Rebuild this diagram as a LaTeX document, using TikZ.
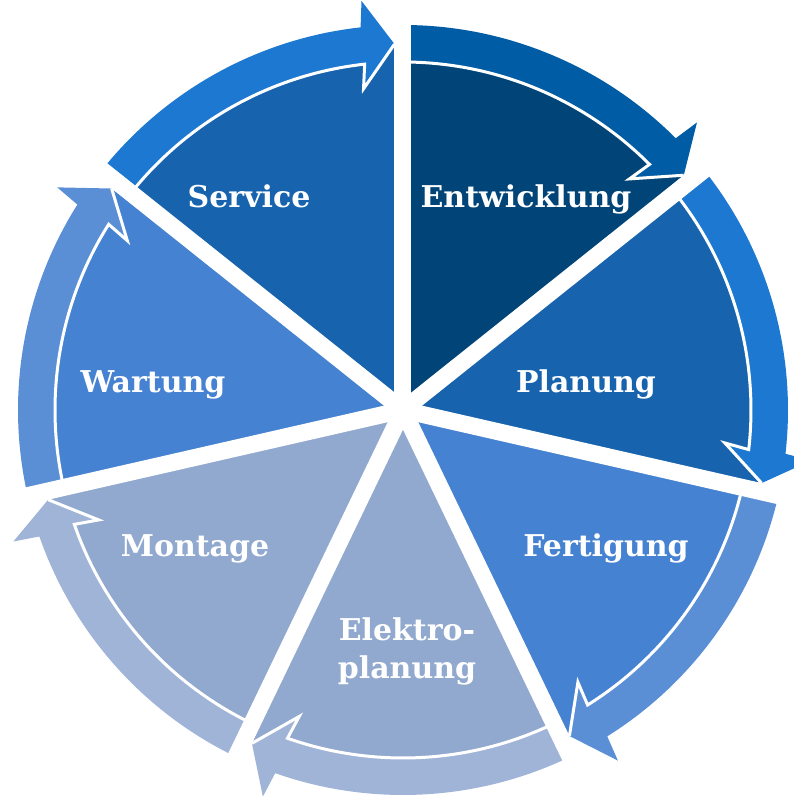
\documentclass[tikz,border=0pt]{standalone}
\usepackage{fontspec}
\setmainfont{DejaVu Serif}
\usepackage{xcolor}
\usetikzlibrary{calc}

\def\sectorang{51.428571}
\def\outerrad{385}
\def\ringrad{348}
\def\tiprad{366}
\def\headlen{32}
\def\headwid{44}
\def\gapwid{17}

\definecolor{entw}{RGB}{0,68,120}
\definecolor{entwarrow}{RGB}{0,92,164}
\definecolor{mid}{RGB}{23,99,174}
\definecolor{midarrow}{RGB}{28,120,208}
\definecolor{light}{RGB}{70,130,210}
\definecolor{lightarrow}{RGB}{90,143,214}
\definecolor{pale}{RGB}{145,169,207}
\definecolor{palearrow}{RGB}{160,180,216}

\begin{document}
\begin{tikzpicture}[x=1pt,y=1pt]
    \tikzstyle{ring line}=[draw=white, line width=3pt, line join=miter]
    \tikzstyle{gap line}=[draw=white, line width=\gapwid pt]
    \tikzstyle{sector text}=[text=white, font=\bfseries\fontsize{30}{38}\selectfont, anchor=base]

    \useasboundingbox (-403,-388) rectangle (391,410);
    \coordinate (C) at (0,0);

    % Draw the sectors with their arrows, clockwise from the top
    \foreach \k/\sc/\bc in {1/entw/entwarrow, 2/mid/midarrow, 3/light/lightarrow,
                            4/pale/palearrow, 5/pale/palearrow, 6/light/lightarrow, 7/mid/midarrow}{
        \pgfmathsetmacro{\s}{90-(\k-1)*\sectorang}
        \pgfmathsetmacro{\e}{\s-\sectorang}
        \pgfmathsetmacro{\t}{\e+asin(\gapwid/2/\tiprad)}
        \pgfmathsetmacro{\b}{\t+atan(\headlen/\tiprad)}
        \coordinate (T-\k) at (\t:\tiprad);
        \coordinate (B-\k) at ($(T-\k)+(\t+90:\headlen)$);
        \coordinate (P-\k) at ($(B-\k)+(\t:\headwid)$);
        \coordinate (Q-\k) at ($(B-\k)+(\t+180:\headwid)$);
        % arrow band and head
        \fill[\bc] (C) -- (\s:\outerrad) arc[start angle=\s, end angle=\b, radius=\outerrad]
            -- (P-\k) -- (T-\k) -- (Q-\k) -- cycle;
        % inner sector
        \fill[\sc] (C) -- (\s:\ringrad) arc[start angle=\s, end angle=\b, radius=\ringrad]
            -- (Q-\k) -- (T-\k) -- cycle;
        \draw[ring line] (\s:\ringrad) arc[start angle=\s, end angle=\b, radius=\ringrad]
            -- (Q-\k) -- (T-\k);
    }

    % Cut the gaps between the sectors
    \foreach \k in {1,...,7}
        \draw[gap line] (C) -- (90-\k*\sectorang+\sectorang:420);

    % Label the sectors
    \node[sector text] (entw) at (123,202) {Entwicklung};
    \node[sector text] (plan) at (183,17) {Planung};
    \node[sector text] (fert) at (203,-146) {Fertigung};
    \node[sector text, anchor=center, align=center] (elek) at (4,-241) {Elektro-\\planung};
    \node[sector text] (mont) at (-208,-146) {Montage};
    \node[sector text] (wart) at (-250,17) {Wartung};
    \node[sector text] (serv) at (-154,202) {Service};
\end{tikzpicture}
\end{document}
